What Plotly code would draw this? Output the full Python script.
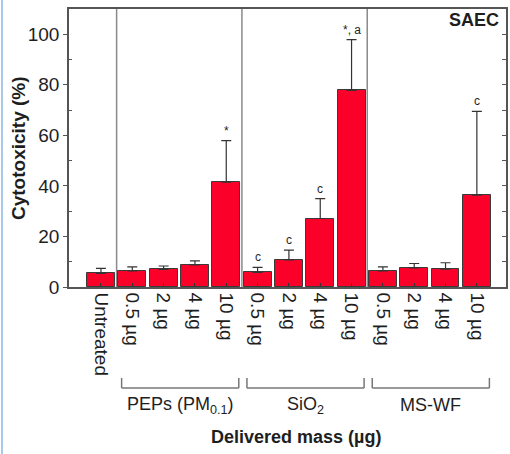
import plotly.graph_objects as go

# ---- data ----
tick_labels = ["Untreated",
               "0.5 µg", "2 µg", "4 µg", "10 µg",
               "0.5 µg", "2 µg", "4 µg", "10 µg",
               "0.5 µg", "2 µg", "4 µg", "10 µg"]
values = [5.4, 6.4, 7.0, 8.7, 41.5, 5.8, 10.7, 27.1, 77.8, 6.4, 7.6, 7.1, 36.3]
errors = [2.0, 1.6, 1.3, 1.6, 16.4, 2.0, 3.9, 7.9, 20.1, 1.6, 1.7, 2.5, 33.2]
sig_labels = ["", "", "", "", "*", "c", "c", "c", "*, a", "", "", "", "c"]
group_names = ["PEPs (PM<sub>0.1</sub>)", "SiO<sub>2</sub>", "MS-WF"]
group_first = [1, 5, 9]
group_last = [4, 8, 12]
separators = [0.5, 4.5, 8.5]

W, H = 510, 454
ML, MR, MT, MB = 69, 4, 9, 167
PW, PH = W - ML - MR, H - MT - MB
def px_x(p):
    return (p - ML) / PW
def px_y(p):
    return (H - MB - p) / PH

FONT = "Liberation Sans, Arial, sans-serif"
TXT = "#1e1e1e"
xpos = list(range(len(values)))

fig = go.Figure()
fig.add_trace(go.Bar(
    x=xpos, y=values, width=0.89,
    marker=dict(color="#fb0029", line=dict(color="#3a3a3a", width=1)),
    error_y=dict(type="data", array=errors, arrayminus=[0] * len(errors),
                 symmetric=False, color="#333333", thickness=1.2, width=5),
    showlegend=False, hoverinfo="skip",
))
# invisible trace for right axis
fig.add_trace(go.Scatter(x=[0], y=[0], yaxis="y2", mode="markers",
                         marker=dict(opacity=0), showlegend=False, hoverinfo="skip"))

shapes = []
for s in separators:
    shapes.append(dict(type="line", xref="x", yref="paper", x0=s, x1=s, y0=0, y1=1,
                       line=dict(color="#8a8a8a", width=1.5), layer="below"))
ann = []
for i, (v, e, lab) in enumerate(zip(values, errors, sig_labels)):
    if lab:
        ann.append(dict(x=i, y=v + e, xref="x", yref="y", text=lab, showarrow=False,
                        yanchor="bottom", yshift=1, font=dict(family=FONT, size=12, color=TXT)))

yb = px_y(388)
yt = px_y(378)
for name, a, b in zip(group_names, group_first, group_last):
    x0, x1 = a - 0.34, b + 0.4
    for d in [dict(x0=x0, x1=x1, y0=yb, y1=yb), dict(x0=x0, x1=x0, y0=yb, y1=yt),
              dict(x0=x1, x1=x1, y0=yb, y1=yt)]:
        shapes.append(dict(type="line", xref="x", yref="paper",
                           line=dict(color="#777777", width=1.5), **d))
    ann.append(dict(x=(x0 + x1) / 2, y=px_y(405), xref="x", yref="paper", text=name,
                    showarrow=False, xanchor="center", yanchor="middle",
                    font=dict(family=FONT, size=18, color=TXT)))

ann.append(dict(x=px_x(296), y=px_y(437), xref="paper", yref="paper",
                text="<b>Delivered mass (µg)</b>", showarrow=False,
                xanchor="center", yanchor="middle",
                font=dict(family=FONT, size=18, color=TXT)))
ann.append(dict(x=px_x(18), y=px_y(148), xref="paper", yref="paper",
                text="<b>Cytotoxicity (%)</b>", showarrow=False, textangle=-90,
                xanchor="center", yanchor="middle",
                font=dict(family=FONT, size=19, color=TXT)))
ann.append(dict(x=px_x(501), y=px_y(20), xref="paper", yref="paper",
                text="<b>SAEC</b>", showarrow=False, xanchor="right", yanchor="middle",
                font=dict(family=FONT, size=18, color=TXT)))

# light blue frame line on the left edge
shapes.append(dict(type="line", xref="paper", yref="paper", x0=px_x(2), x1=px_x(2),
                   y0=px_y(0), y1=px_y(H), line=dict(color="#a9c7e9", width=2)))

fig.update_layout(
    width=W, height=H, margin=dict(l=ML, r=MR, t=MT, b=MB, autoexpand=False),
    paper_bgcolor="white", plot_bgcolor="white",
    shapes=shapes, annotations=ann, bargap=0,
    font=dict(family=FONT, size=19, color=TXT),
    xaxis=dict(range=[-1.02, 12.93], tickvals=xpos, ticktext=tick_labels,
               tickangle=90, ticks="inside", ticklen=4, tickcolor="#333",
               showline=True, linecolor="#555", linewidth=1.5, mirror=True,
               showgrid=False, zeroline=False, automargin=False,
               tickfont=dict(family=FONT, size=19, color=TXT)),
    yaxis=dict(range=[0, 110], tickvals=[0, 20, 40, 60, 80, 100], ticks="outside",
               ticklen=4, tickcolor="#555", showline=True, linecolor="#555",
               linewidth=1.5, showgrid=False, zeroline=False, automargin=False,
               minor=dict(tickvals=[10, 30, 50, 70, 90], ticks="inside", ticklen=3,
                          tickcolor="#555"),
               tickfont=dict(family=FONT, size=19, color=TXT)),
    yaxis2=dict(range=[0, 110], overlaying="y", side="right", anchor="x",
                tickvals=list(range(0, 110, 10)), ticks="inside", ticklen=4,
                tickcolor="#555", showticklabels=False, showline=True,
                linecolor="#555", linewidth=1.5, showgrid=False, zeroline=False,
                automargin=False),
)

fig.write_html("out.html", config={"displayModeBar": False},
               post_script="document.body.style.margin='0';document.body.style.overflow='hidden';")
